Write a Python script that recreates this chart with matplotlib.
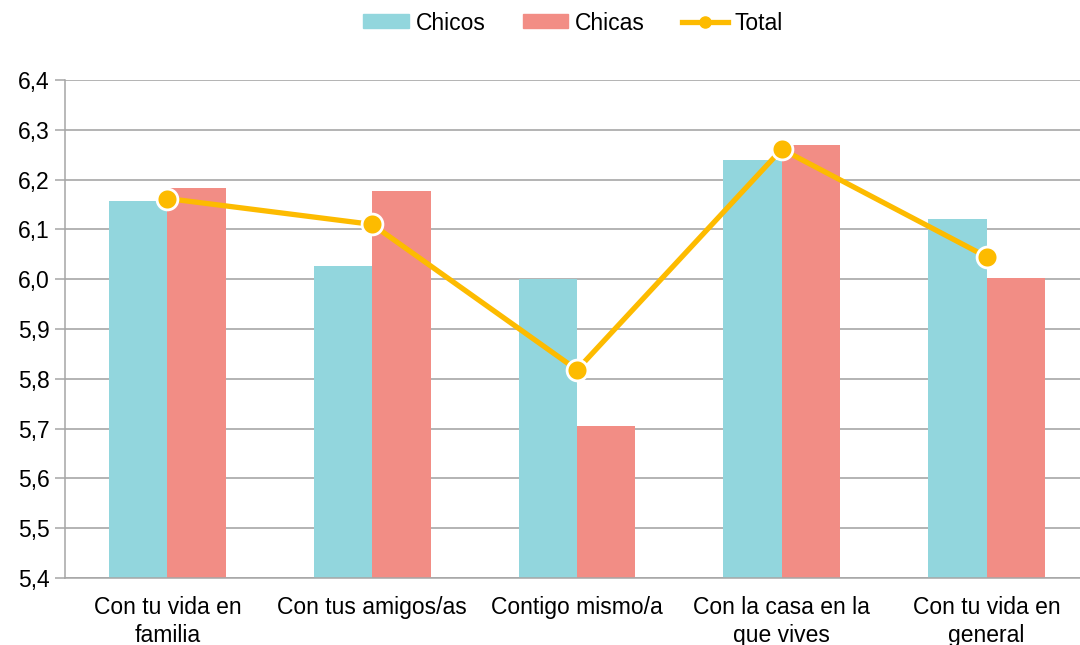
import numpy as np
import matplotlib.pyplot as plt
from matplotlib.lines import Line2D
from matplotlib.patches import Patch

plt.rcParams['font.family'] = ['Liberation Sans', 'DejaVu Sans']

categorias = ['Con tu vida en\nfamilia', 'Con tus amigos/as', 'Contigo mismo/a',
              'Con la casa en la\nque vives', 'Con tu vida en\ngeneral']
chicos = [6.157, 6.026, 6.000, 6.239, 6.121]
chicas = [6.184, 6.177, 5.705, 6.269, 6.003]
total = [6.162, 6.110, 5.818, 6.261, 6.045]

c_chicos = '#92D6DD'
c_chicas = '#F28D85'
c_total = '#FDBB00'

fs = 16.5

fig = plt.figure(figsize=(10.8, 6.45), dpi=100)
ax = fig.add_axes([65 / 1080, 67 / 645, 1024 / 1080, 498 / 645])

x = np.arange(len(categorias))
w = 0.285
ax.bar(x - w / 2, np.array(chicos) - 5.4, w, bottom=5.4, color=c_chicos, zorder=2)
ax.bar(x + w / 2, np.array(chicas) - 5.4, w, bottom=5.4, color=c_chicas, zorder=2)
ax.plot(x, total, color=c_total, lw=3.8, marker='o', ms=15,
        markerfacecolor=c_total, markeredgecolor='white', markeredgewidth=2, zorder=3)

ax.set_xlim(-0.5, len(categorias) - 0.5)
ax.set_ylim(5.4, 6.4)
ticks = np.arange(5.4, 6.41, 0.1)
ax.set_yticks(ticks)
ax.set_yticklabels([f'{v:.1f}'.replace('.', ',') for v in ticks], fontsize=fs)
ax.set_xticks(x)
ax.set_xticklabels(categorias, fontsize=fs, linespacing=1.25)
ax.tick_params(axis='x', length=0, pad=13)
ax.tick_params(axis='y', length=7, width=1.1, color='#A6A6A6', pad=4)
ax.yaxis.grid(True, color='#B3B3B3', lw=1.4, zorder=0)
ax.set_axisbelow(True)
for s in ['top', 'right']:
    ax.spines[s].set_visible(False)
for s in ['left', 'bottom']:
    ax.spines[s].set_color('#A6A6A6')
    ax.spines[s].set_linewidth(1.1)

handles = [Patch(color=c_chicos, label='Chicos'),
           Patch(color=c_chicas, label='Chicas'),
           Line2D([], [], color=c_total, lw=3.8, marker='o', ms=8, label='Total')]
fig.legend(handles=handles, loc='center', bbox_to_anchor=(573 / 1080, 1 - 23 / 645),
           ncol=3, frameon=False, fontsize=fs, handlelength=2.0, handleheight=0.55,
           handletextpad=0.3, columnspacing=1.6)

fig.savefig('out.png', dpi=100)
